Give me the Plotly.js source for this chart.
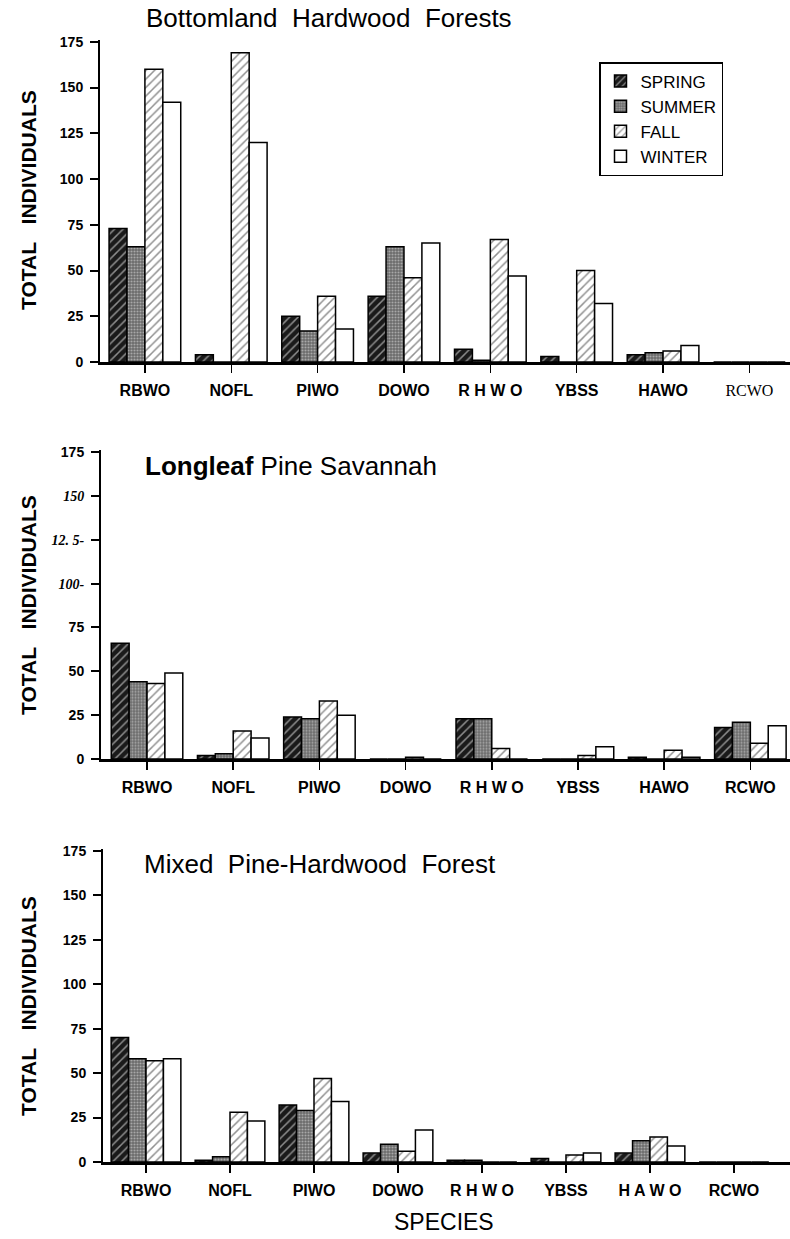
<!DOCTYPE html>
<html>
<head>
<meta charset="utf-8">
<script src="https://cdn.plot.ly/plotly-3.0.1.min.js"></script>
<style>html,body{margin:0;padding:0;background:#fff;}#chart{width:790px;height:1239px;}</style>
</head>
<body>
<div id="chart"></div>
<script>
// ---- data ----
const categories = ['RBWO','NOFL','PIWO','DOWO','RHWO','YBSS','HAWO','RCWO'];
const seasons = ['SPRING','SUMMER','FALL','WINTER'];

const topLabels = ['RBWO','NOFL','PIWO','DOWO','R H W O','YBSS','HAWO','<span style="font-family:Liberation Serif;font-weight:normal">RCWO</span>'];
const midLabels = ['RBWO','NOFL','PIWO','DOWO','R H W O','YBSS','HAWO','RCWO'];
const botLabels = ['RBWO','NOFL','PIWO','DOWO','R H W O','YBSS','H A W O','RCWO'];

const yTickVals = [0,25,50,75,100,125,150,175];
const yTickText = ['0','25','50','75','100','125','150','175'];
const yTickTextMid = ['0','25','50','75',
  '<span style="font-family:Liberation Serif"><i>100-</i></span>',
  '<span style="font-family:Liberation Serif"><i>12. 5-</i></span>',
  '<span style="font-family:Liberation Serif"><i>150</i></span>',
  '175'];

const bottomlandSpring = [73, 4, 25, 36, 7, 3, 4, 0];
const bottomlandSummer = [63, 0, 17, 63, 1, 0, 5, 0];
const bottomlandFall   = [160, 169, 36, 46, 67, 50, 6, 0];
const bottomlandWinter = [142, 120, 18, 65, 47, 32, 9, 0];

const longleafSpring = [66, 2, 24, 0, 23, 0, 1, 18];
const longleafSummer = [44, 3, 23, 0, 23, 0, 0, 21];
const longleafFall   = [43, 16, 33, 1, 6, 2, 5, 9];
const longleafWinter = [49, 12, 25, 0, 0, 7, 1, 19];

const mixedSpring = [70, 1, 32, 5, 1, 2, 5, 0];
const mixedSummer = [58, 3, 29, 10, 1, 0, 12, 0];
const mixedFall   = [57, 28, 47, 6, 0, 4, 14, 0];
const mixedWinter = [58, 23, 34, 18, 0, 5, 9, 0];

const panelTitles = ['Bottomland\u00a0\u00a0Hardwood\u00a0\u00a0Forests',
                     '<b>Longleaf</b> Pine Savannah',
                     'Mixed\u00a0\u00a0Pine-Hardwood\u00a0\u00a0Forest'];
const yTitle = 'TOTAL\u00a0\u00a0\u00a0INDIVIDUALS';
const xTitle = 'SPECIES';

// ---- styles ----
const W = 790, H = 1239;
const styles = [
  {color:'#1a1a1a', pattern:{fillmode:'overlay', shape:'/', fgcolor:'#ffffff', size:6, solidity:0.25}},
  {color:'#6a6a6a', pattern:{fillmode:'overlay', shape:'.', fgcolor:'#e6e6e6', size:3, solidity:0.4}},
  {color:'#ffffff', pattern:{fillmode:'overlay', shape:'/', fgcolor:'#222222', size:6, solidity:0.25}},
  {color:'#ffffff'}
];

const panels = [
  {series:[bottomlandSpring,bottomlandSummer,bottomlandFall,bottomlandWinter], xa:'x', ya:'y'},
  {series:[longleafSpring,longleafSummer,longleafFall,longleafWinter], xa:'x2', ya:'y2'},
  {series:[mixedSpring,mixedSummer,mixedFall,mixedWinter], xa:'x3', ya:'y3'}
];

const traces = [];
panels.forEach((p, pi) => {
  p.series.forEach((vals, si) => {
    const st = styles[si];
    const marker = {color: st.color, line:{color:'#000', width:1.5}};
    if (st.pattern) marker.pattern = st.pattern;
    traces.push({
      type:'bar', x:categories, y:vals, name:seasons[si],
      xaxis:p.xa, yaxis:p.ya, marker:marker,
      showlegend: pi === 0, hoverinfo:'skip'
    });
  });
});

function py(px){ return 1 - px/H; }
function pxx(px){ return px/W; }

function xAxis(domLeft, range, labels, anchor){
  return {domain:[pxx(domLeft),1], anchor:anchor, type:'category', range:range,
    tickmode:'array', tickvals:categories, ticktext:labels,
    showline:true, linewidth:2.5, linecolor:'#000', ticks:'outside', ticklen:8, tickwidth:1.5, tickcolor:'#000',
    tickfont:{size:16, weight:'bold', color:'#000'}, showgrid:false, zeroline:false, ticklabelstandoff:4, fixedrange:true};
}
function yAxis(top0, bottom0, ticktext, anchor){
  return {domain:[py(bottom0), py(top0)], anchor:anchor, range:[0,176],
    tickmode:'array', tickvals:yTickVals, ticktext:ticktext,
    showline:true, linewidth:2, linecolor:'#000', ticks:'outside', ticklen:8, tickwidth:2, tickcolor:'#000',
    tickfont:{size:14, weight:'bold', color:'#000'}, showgrid:false, zeroline:false, ticklabelstandoff:4, fixedrange:true};
}

const annFont = {family:'Liberation Sans, Arial, sans-serif', color:'#000'};
const annotations = [
  {text:panelTitles[0], x:pxx(144), y:py(18), xanchor:'left', yanchor:'middle', font:Object.assign({size:26}, annFont)},
  {text:panelTitles[1], x:pxx(143), y:py(466), xanchor:'left', yanchor:'middle', font:Object.assign({size:26}, annFont)},
  {text:panelTitles[2], x:pxx(142), y:py(864), xanchor:'left', yanchor:'middle', font:Object.assign({size:26}, annFont)},
  {text:yTitle, x:pxx(28), y:py(200), textangle:-90, xanchor:'center', yanchor:'middle', font:Object.assign({size:21, weight:'bold'}, annFont)},
  {text:yTitle, x:pxx(28), y:py(605), textangle:-90, xanchor:'center', yanchor:'middle', font:Object.assign({size:21, weight:'bold'}, annFont)},
  {text:yTitle, x:pxx(28), y:py(1006), textangle:-90, xanchor:'center', yanchor:'middle', font:Object.assign({size:21, weight:'bold'}, annFont)},
  {text:xTitle, x:pxx(444), y:py(1222), xanchor:'center', yanchor:'middle', font:Object.assign({size:23}, annFont)}
].map(a => Object.assign({xref:'paper', yref:'paper', showarrow:false}, a));

const layout = {
  width:W, height:H, margin:{l:0,r:0,t:0,b:0},
  paper_bgcolor:'#fff', plot_bgcolor:'#fff',
  font:{family:'Liberation Sans, Arial, sans-serif', color:'#000'},
  barmode:'group', bargap:0.17, bargroupgap:0,
  xaxis: xAxis(100, [-0.52, 7.47], topLabels, 'y'),
  yaxis: yAxis(40, 362, yTickText, 'x'),
  xaxis2: xAxis(101, [-0.534, 7.46], midLabels, 'y2'),
  yaxis2: yAxis(450.3, 759, yTickTextMid, 'x2'),
  xaxis3: xAxis(103, [-0.512, 7.667], botLabels, 'y3'),
  yaxis3: yAxis(849, 1162, yTickText, 'x3'),
  legend:{x:pxx(599), y:py(62), xanchor:'left', yanchor:'top', bordercolor:'#000', borderwidth:1.5,
    bgcolor:'#fff', font:{size:17, color:'#000'}, traceorder:'normal', itemwidth:30},
  annotations:annotations,
  showlegend:true
};

Plotly.newPlot('chart', traces, layout, {staticPlot:true, displayModeBar:false});
</script>
</body>
</html>
